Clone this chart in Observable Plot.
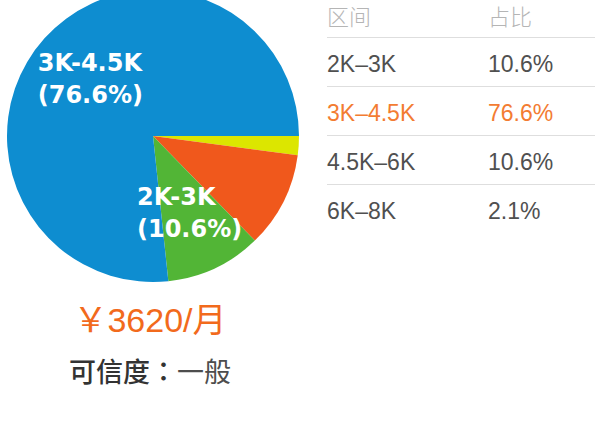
<!DOCTYPE html>
<html><head><meta charset="utf-8">
<script src="https://cdn.jsdelivr.net/npm/d3@7"></script>
<script src="https://cdn.jsdelivr.net/npm/@observablehq/plot@0.6"></script>
<style>
html,body{margin:0;padding:0;background:#fff;}
#wrap{position:relative;width:600px;height:427px;overflow:hidden;font-family:"Liberation Sans","Noto Sans CJK SC",sans-serif;}
#pie{position:absolute;left:0;top:0;}
#table{position:absolute;left:327px;top:0;width:268px;}
.row{display:flex;box-sizing:border-box;border-bottom:1px solid #dedede;}
.row:last-child{border-bottom:none;}
.hdr{height:38px;line-height:30px;font-family:"Noto Sans CJK SC",sans-serif;font-size:22px;color:#b5b5b5;font-weight:300;}
.dat{height:49px;padding-top:3px;line-height:46px;font-size:23px;color:#505050;}
.dat.hl{color:#f37c32;}
.c1{width:161px;}
#price{position:absolute;left:0;width:300px;top:298px;text-align:center;font-size:34px;color:#f26a1c;line-height:44px;font-family:"Liberation Sans","Noto Sans CJK SC",sans-serif;}
#cred{position:absolute;left:0;width:300px;top:352px;text-align:center;font-size:27px;line-height:38px;font-family:"Noto Sans CJK SC",sans-serif;font-weight:500;color:#333;}
#cred .colon{font-family:"Noto Sans CJK TC",sans-serif;}
#cred .v{color:#4d4d4d;font-weight:400;}
</style></head><body>
<div id="wrap"><div id="pie"></div><div id="table"></div><div id="price"></div><div id="cred"></div></div>
<script>
// slices in clockwise order starting at 3 o'clock
const categories = ["6K-8K", "4.5K-6K", "2K-3K", "3K-4.5K"];
const shares = [2.1, 10.6, 10.6, 76.6];
const colors = ["#dce600", "#f0581c", "#52b536", "#0e8dd0"];
const labeled = ["3K-4.5K", "2K-3K"];
const headers = ["区间", "占比"];
const tableOrder = ["2K-3K", "3K-4.5K", "4.5K-6K", "6K-8K"];
const highlight = "3K-4.5K";
const priceText = "￥3620/月";
const credLabel = "可信度";
const credColon = "：";
const credValue = "一般";

const data = categories.map((c, i) => ({range: c, share: shares[i]}));
const arcs = d3.pie().value(d => d.share).sort(null)
  .startAngle(Math.PI / 2).endAngle(Math.PI / 2 + 2 * Math.PI)(data);

const R = 146;
const labelFont = "bold 24px 'DejaVu Sans'";
const ctx = document.createElement("canvas").getContext("2d");
ctx.font = labelFont;
const labelArc = d3.arc().innerRadius(85).outerRadius(85);
const labels = arcs.filter(a => labeled.includes(a.data.range)).map(a => {
  const [x, y] = labelArc.centroid(a);
  const lines = [a.data.range, `(${a.data.share.toFixed(1)}%)`];
  const w = d3.max(lines, l => ctx.measureText(l).width);
  return {x: x - w / 2, y, text: lines.join("\n")};
});

const colorScale = Plot.scale({color: {type: "ordinal", domain: categories, range: colors}});

function slices(index, scales) {
  const sx = scales && typeof scales.x === "function" ? scales.x : (v => v + 153);
  const sy = scales && typeof scales.y === "function" ? scales.y : (v => v + 136);
  const cx = sx(0), cy = sy(0);
  const r = Math.abs(sx(R) - sx(0));
  const arc = d3.arc().innerRadius(0).outerRadius(r);
  const g = d3.create("svg:g").attr("transform", `translate(${cx},${cy})`);
  g.selectAll("path").data(arcs).join("path")
    .attr("d", arc)
    .attr("fill", a => colorScale.apply(a.data.range));
  return g.node();
}

const chart = Plot.plot({
  width: 300,
  height: 290,
  margin: 0,
  x: {domain: [-153, 147], range: [0, 300], axis: null},
  y: {domain: [-136, 154], range: [0, 290], axis: null},
  style: {background: "transparent", overflow: "visible"},
  marks: [
    slices,
    Plot.text(labels, {x: "x", y: "y", text: "text", fill: "white", fontSize: 24, dy: -3,
      fontWeight: "bold", fontFamily: "DejaVu Sans", lineHeight: 1.35, textAnchor: "start"})
  ]
});
document.getElementById("pie").appendChild(chart);

// table
const table = document.getElementById("table");
const hdr = document.createElement("div");
hdr.className = "row hdr";
hdr.innerHTML = `<div class="c1">${headers[0]}</div><div>${headers[1]}</div>`;
table.appendChild(hdr);
tableOrder.forEach(c => {
  const d = data.find(x => x.range === c);
  const row = document.createElement("div");
  row.className = "row dat" + (c === highlight ? " hl" : "");
  row.innerHTML = `<div class="c1">${c.replace(/-/g, "–")}</div><div>${d.share.toFixed(1)}%</div>`;
  table.appendChild(row);
});

document.getElementById("price").textContent = priceText;
document.getElementById("cred").innerHTML = `${credLabel}<span class="colon">${credColon}</span><span class="v">${credValue}</span>`;
</script>
</body></html>
